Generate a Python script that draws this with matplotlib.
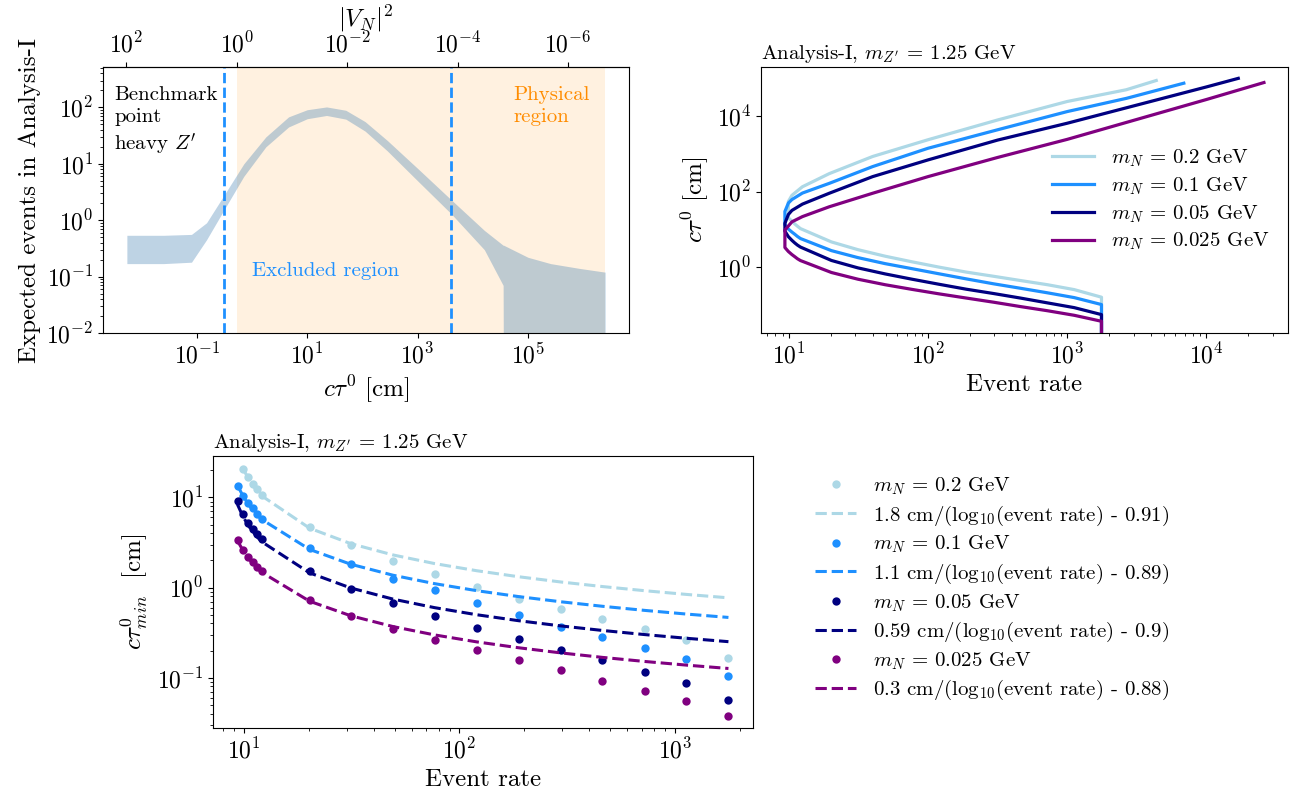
import numpy as np
import matplotlib
matplotlib.use("Agg")
import matplotlib.pyplot as plt
from matplotlib.ticker import NullLocator

plt.rcParams.update({
    "font.family": "serif",
    "font.serif": ["cmr10"],
    "mathtext.fontset": "cm",
    "axes.formatter.use_mathtext": True,
    "axes.unicode_minus": False,
})

# ---------------- data: expected events vs c tau (top left) ----------------
CTAU_BAND = [0.0054, 0.025, 0.08, 0.15, 0.32, 0.71, 1.78, 4.6, 10.0, 22.4,
             50.0, 112.0, 282.0, 1000.0, 4070.0, 16200.0, 35500.0, 36300.0,
             1.0e5, 2.57e5, 8.5e5, 2.5e6]
EVENTS_UP = [0.54, 0.54, 0.56, 0.9, 2.9, 10.0, 30.0, 68.0, 91.0, 102.0,
             89.0, 56.0, 26.0, 8.3, 2.3, 0.66, 0.36, 0.36, 0.22, 0.17, 0.14, 0.12]
EVENTS_LO = [0.17, 0.17, 0.18, 0.45, 1.6, 6.0, 20.0, 45.0, 63.0, 72.0,
             62.0, 38.0, 17.0, 5.0, 1.3, 0.3, 0.07, 1e-4, 1e-4, 1e-4, 1e-4, 1e-4]
EXCL_LO, EXCL_HI = 0.31, 4100.0      # dashed lines
VN2_ONE = 0.53                       # c tau where |V_N|^2 = 1
VN2_TICKS = [1e2, 1e0, 1e-2, 1e-4, 1e-6]

# ---------------- data: c tau_min vs event rate ----------------
MASSES = ["0.2", "0.1", "0.05", "0.025"]
COLORS = ["lightblue", "dodgerblue", "navy", "purple"]
RATES = [9.35, 9.9, 10.5, 11.0, 11.5, 12.1, 20.2, 31.3, 49.2, 76.6, 120.0,
         188.0, 296.0, 460.0, 723.0, 1125.0, 1766.0]
CTAU_MIN = [
    [np.nan, 20.5, 16.7, 14.1, 12.3, 10.6, 4.72, 2.95, 1.98, 1.41, 1.02,
     0.755, 0.585, 0.453, 0.35, 0.26, 0.164],
    [13.5, 10.3, 8.6, 7.55, 6.6, 5.8, 2.78, 1.82, 1.26, 0.93, 0.68,
     0.50, 0.37, 0.283, 0.214, 0.16, 0.105],
    [9.1, 6.5, 5.2, 4.45, 3.9, 3.45, 1.53, 0.975, 0.675, 0.49, 0.36,
     0.267, 0.205, 0.156, 0.116, 0.087, 0.057],
    [3.36, 2.64, 2.19, 1.93, 1.70, 1.52, 0.736, 0.49, 0.35, 0.264, 0.201,
     0.156, 0.121, 0.093, 0.072, 0.0546, 0.038],
]
FIT_A = [1.8, 1.1, 0.59, 0.3]
FIT_B = [0.91, 0.89, 0.9, 0.88]

# upper branch of the event-rate curves (top right)
UP_RATE = [
    [9.9, 10.5, 12.5, 19.5, 40.0, 100.0, 316.0, 1000.0, 2660.0, 4370.0],
    [9.35, 9.9, 10.5, 12.5, 19.5, 40.0, 100.0, 316.0, 1000.0, 2660.0, 6900.0],
    [9.35, 9.9, 10.5, 12.5, 19.5, 40.0, 100.0, 316.0, 1000.0, 10000.0, 17000.0],
    [9.35, 10.5, 12.5, 19.5, 40.0, 100.0, 316.0, 1000.0, 10000.0, 26000.0],
]
UP_CTAU = [
    [55.0, 80.0, 135.0, 300.0, 850.0, 2350.0, 7800.0, 24000.0, 49000.0, 86000.0],
    [30.0, 50.0, 62.0, 92.0, 166.0, 460.0, 1400.0, 4300.0, 13000.0, 29000.0, 73000.0],
    [14.6, 25.0, 32.0, 47.0, 91.0, 250.0, 690.0, 2300.0, 6400.0, 58000.0, 98000.0],
    [9.7, 16.0, 22.0, 40.0, 91.0, 250.0, 800.0, 2400.0, 27000.0, 76000.0],
]
CTAU_FLOOR = 1e-3

TITLE = r"Analysis-I, $m_{Z'}$ = 1.25 GeV"

fig = plt.figure(figsize=(13.05, 7.98), dpi=100)

# ---------------- top left ----------------
ax1 = fig.add_axes([0.0789, 0.5827, 0.4031, 0.3333])
ax1.axvspan(VN2_ONE, CTAU_BAND[-1], color="darkorange", alpha=0.12, lw=0)
ax1.fill_between(CTAU_BAND, EVENTS_LO, EVENTS_UP, color="steelblue", alpha=0.35, lw=0)
ax1.axvline(EXCL_LO, color="dodgerblue", ls="--", lw=2)
ax1.axvline(EXCL_HI, color="dodgerblue", ls="--", lw=2)
ax1.set_xscale("log")
ax1.set_yscale("log")
ax1.set_ylim(1e-2, 5.2e2)
ax1.set_xticks([1e-1, 1e1, 1e3, 1e5])
ax1.set_xlabel(r"$c\tau^0$ [cm]", fontsize=18)
ax1.set_ylabel("Expected events in Analysis-I", fontsize=18)
ax1.tick_params(labelsize=17)
ax1.text(0.021, 0.93, "Benchmark\npoint\nheavy $Z'$", transform=ax1.transAxes,
         va="top", ha="left", fontsize=15, linespacing=1.3)
ax1.text(0.78, 0.93, "Physical\nregion", transform=ax1.transAxes,
         va="top", ha="left", fontsize=15, color="darkorange", linespacing=1.3)
ax1.text(0.283, 0.235, "Excluded region", transform=ax1.transAxes,
         va="center", ha="left", fontsize=15, color="dodgerblue")
sec = ax1.secondary_xaxis("top", functions=(lambda x: VN2_ONE / x, lambda v: VN2_ONE / v))
sec.set_xticks(VN2_TICKS)
sec.xaxis.set_minor_locator(NullLocator())
sec.tick_params(labelsize=17)
sec.set_xlabel(r"$|V_N|^2$", fontsize=18, labelpad=4)

# ---------------- top right ----------------
ax2 = fig.add_axes([0.5831, 0.5827, 0.4038, 0.3333])
for i, m in enumerate(MASSES):
    lo = [(r, c) for r, c in zip(RATES, CTAU_MIN[i]) if not np.isnan(c)]
    xs = [lo[-1][0]] + [r for r, _ in lo[::-1]] + UP_RATE[i]
    ys = [CTAU_FLOOR] + [c for _, c in lo[::-1]] + UP_CTAU[i]
    ax2.plot(xs, ys, color=COLORS[i], lw=2.3, label=rf"$m_N$ = {m} GeV")
ax2.set_xscale("log")
ax2.set_yscale("log")
ax2.set_ylim(10 ** -1.73, 10 ** 5.29)
ax2.set_xlabel("Event rate", fontsize=18)
ax2.set_ylabel(r"$c\tau^0$ [cm]", fontsize=18)
ax2.tick_params(labelsize=17)
ax2.set_title(TITLE, loc="left", fontsize=15)
ax2.legend(loc="center right", frameon=False, fontsize=15, labelspacing=0.3)

# ---------------- bottom left ----------------
ax3 = fig.add_axes([0.1632, 0.0877, 0.4138, 0.3409])
handles = []
for i, m in enumerate(MASSES):
    r = np.array(RATES)
    c = np.array(CTAU_MIN[i])
    ok = ~np.isnan(c)
    pts, = ax3.plot(r[ok], c[ok], "o", color=COLORS[i], ms=6, mew=0,
                    label=rf"$m_N$ = {m} GeV")
    fit, = ax3.plot(r[ok], FIT_A[i] / (np.log10(r[ok]) - FIT_B[i]), "--",
                    color=COLORS[i], lw=2.2,
                    label=rf"{FIT_A[i]:g} cm/(log$_{{10}}$(event rate) - {FIT_B[i]:g})")
    handles += [pts, fit]
ax3.set_xscale("log")
ax3.set_yscale("log")
ax3.set_xlabel("Event rate", fontsize=18)
ax3.set_ylabel(r"$c\tau^0_{min}$  [cm]", fontsize=18)
ax3.tick_params(labelsize=17)
ax3.set_title(TITLE, loc="left", fontsize=15)
fig.legend(handles=handles, loc="center left", bbox_to_anchor=(0.618, 0.262),
           frameon=False, fontsize=15, borderaxespad=0, labelspacing=0.3)

fig.savefig("out.png", dpi=100)
